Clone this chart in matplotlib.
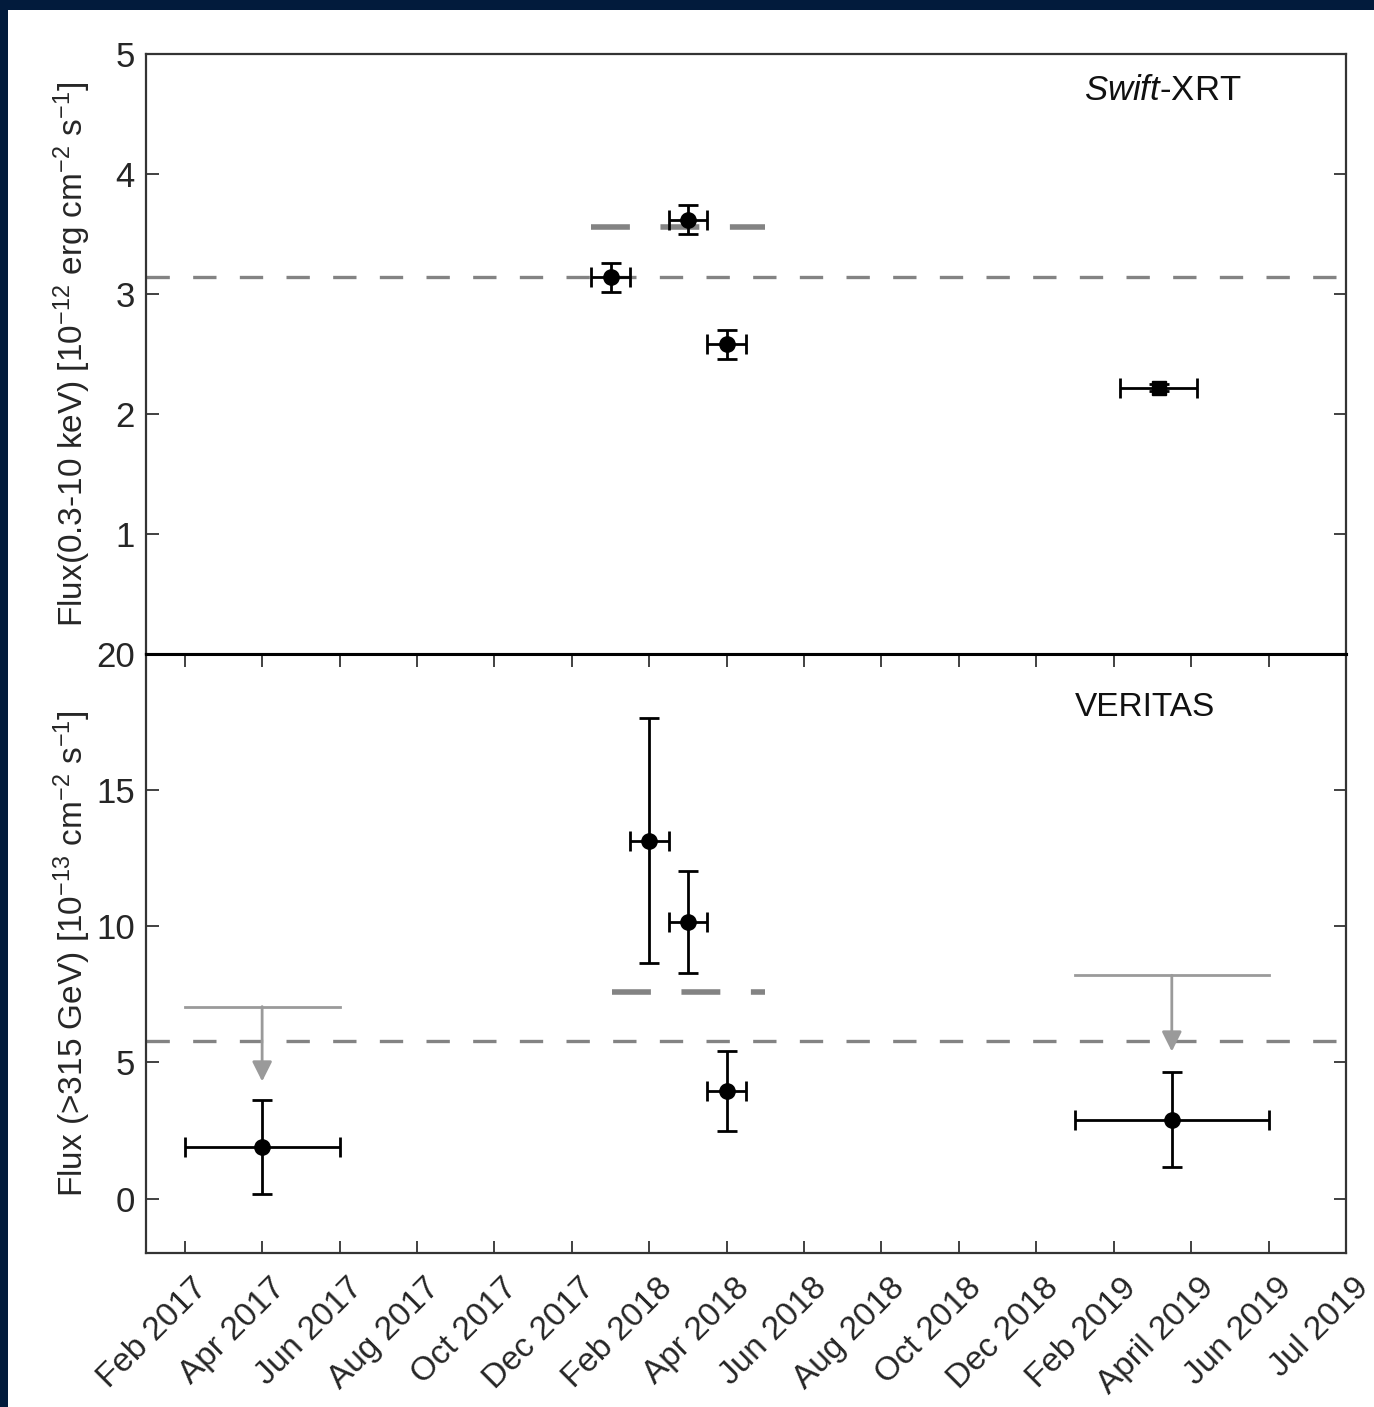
import numpy as np
from matplotlib import pyplot as plt
from matplotlib.patches import Rectangle
from matplotlib.transforms import ScaledTranslation

plt.rcParams['font.family'] = ['Liberation Sans', 'DejaVu Sans']
plt.rcParams['mathtext.fontset'] = 'custom'
plt.rcParams['mathtext.rm'] = 'Liberation Sans'
plt.rcParams['mathtext.it'] = 'Liberation Sans:italic'
plt.rcParams['mathtext.default'] = 'regular'

# x axis: one category step per tick (two months)
month_labels = ["Feb 2017", "Apr 2017", "Jun 2017", "Aug 2017", "Oct 2017", "Dec 2017",
                "Feb 2018", "Apr 2018", "Jun 2018", "Aug 2018", "Oct 2018", "Dec 2018",
                "Feb 2019", "April 2019", "Jun 2019", "Jul 2019"]

# Swift-XRT, 0.3-10 keV flux [1e-12 erg cm-2 s-1]
xrt_t = [5.5, 6.5, 7.0]
xrt_terr = [0.25, 0.25, 0.25]
xrt_flux = [3.14, 3.62, 2.58]
xrt_ferr = [0.12, 0.12, 0.12]
xrt_sq_t = [12.58]
xrt_sq_terr = [0.5]
xrt_sq_flux = [2.22]
xrt_sq_ferr = [0.03]
xrt_mean = 3.14
xrt_flare_mean = 3.56
xrt_flare_span = [5.25, 7.5]

# VERITAS, >315 GeV flux [1e-13 cm-2 s-1]
ver_t = [1.0, 6.0, 6.5, 7.0, 12.75]
ver_terr = [1.0, 0.25, 0.25, 0.25, 1.25]
ver_flux = [1.9, 13.15, 10.15, 3.95, 2.9]
ver_ferr = [1.72, 4.5, 1.88, 1.48, 1.75]
ver_ul_t = [1.0, 12.75]
ver_ul_terr = [1.0, 1.25]
ver_ul = [7.05, 8.2]
ver_ul_tip = [4.3, 5.4]
ver_mean = 5.78
ver_flare_mean = 7.6
ver_flare_span = [5.52, 7.5]

grey = '#838383'
ul_grey = '#9a9a9a'
txt = '#262626'

fig = plt.figure(figsize=(13.74, 14.07), dpi=100)
fig.patch.set_facecolor('#021b3c')
fig.patches.append(Rectangle((8 / 1374, 0), 1, 1 - 10 / 1407, transform=fig.transFigure,
                             facecolor='white', edgecolor='none', zorder=-10))

left, width = 146 / 1374, 1200 / 1374
ax1 = fig.add_axes([left, 1 - 654 / 1407, width, 600 / 1407])
ax2 = fig.add_axes([left, 1 - 1253 / 1407, width, 599 / 1407])

for ax in (ax1, ax2):
    ax.set_xlim(-0.5, 15)
    for s in ax.spines.values():
        s.set_linewidth(1.6)
        s.set_color('#333333')
    ax.tick_params(direction='in', length=9, width=1.3, color='#333333',
                   labelsize=25, labelcolor=txt, right=True, pad=8)

# top panel
ax1.set_ylim(0, 5)
ax1.set_yticks([1, 2, 3, 4, 5])
ax1.tick_params(axis='x', bottom=False, labelbottom=False)
ax1.spines['bottom'].set_color('black')
ax1.spines['bottom'].set_linewidth(2.2)
ax1.axhline(xrt_mean, color=grey, lw=2.4, dashes=(7, 7))
ax1.plot(xrt_flare_span, [xrt_flare_mean] * 2, color=grey, lw=4, dashes=(7, 5.5))
ax1.errorbar(xrt_t, xrt_flux, xerr=xrt_terr, yerr=xrt_ferr, fmt='o', color='black',
             ms=11, elinewidth=2, capsize=7, capthick=2, zorder=5)
ax1.errorbar(xrt_sq_t, xrt_sq_flux, xerr=xrt_sq_terr, yerr=xrt_sq_ferr, fmt='s', color='black',
             ms=10, elinewidth=2, capsize=7, capthick=2, zorder=5)
ax1.text(0.847, 0.94, r'$\it{Swift}$-XRT', transform=ax1.transAxes, ha='center', va='center',
         fontsize=25, color='#111111')
ax1.set_ylabel(r'Flux(0.3-10 keV) [10$^{-12}$ erg cm$^{-2}$ s$^{-1}$]', fontsize=24,
               color=txt, va='center')

# bottom panel
ax2.set_ylim(-2, 20)
ax2.set_yticks([0, 5, 10, 15, 20])
ax2.set_xticks(np.arange(len(month_labels)))
ax2.set_xticklabels(month_labels, rotation=45, ha='right', rotation_mode='anchor')
ax2.tick_params(axis='x', top=True, labelsize=24, pad=14)
shift = ScaledTranslation(7 / 100, 0, fig.dpi_scale_trans)
for lab in ax2.get_xticklabels():
    lab.set_transform(lab.get_transform() + shift)
ax2.spines['top'].set_color('black')
ax2.spines['top'].set_linewidth(2.2)
ax2.axhline(ver_mean, color=grey, lw=2.4, dashes=(7, 7))
ax2.plot(ver_flare_span, [ver_flare_mean] * 2, color=grey, lw=4, dashes=(7, 5.5))
ax2.errorbar(ver_t, ver_flux, xerr=ver_terr, yerr=ver_ferr, fmt='o', color='black',
             ms=11, elinewidth=2, capsize=7, capthick=2, zorder=5)
for t, dt, ul, tip in zip(ver_ul_t, ver_ul_terr, ver_ul, ver_ul_tip):
    ax2.plot([t - dt, t + dt], [ul, ul], color=ul_grey, lw=2)
    ax2.annotate('', xy=(t, tip), xytext=(t, ul),
                 arrowprops=dict(arrowstyle='-|>', color=ul_grey, lw=2,
                                 mutation_scale=30, shrinkA=0, shrinkB=0))
ax2.text(0.8325, 0.91, 'VERITAS', transform=ax2.transAxes, ha='center', va='center',
         fontsize=24, color='#111111')
ax2.set_ylabel(r'Flux (>315 GeV) [10$^{-13}$ cm$^{-2}$ s$^{-1}$]', fontsize=24,
               color=txt, va='center')

for ax in (ax1, ax2):
    ax.yaxis.set_label_coords(-0.0617, 0.5)

fig.savefig('out.png', dpi=100, facecolor=fig.get_facecolor())
